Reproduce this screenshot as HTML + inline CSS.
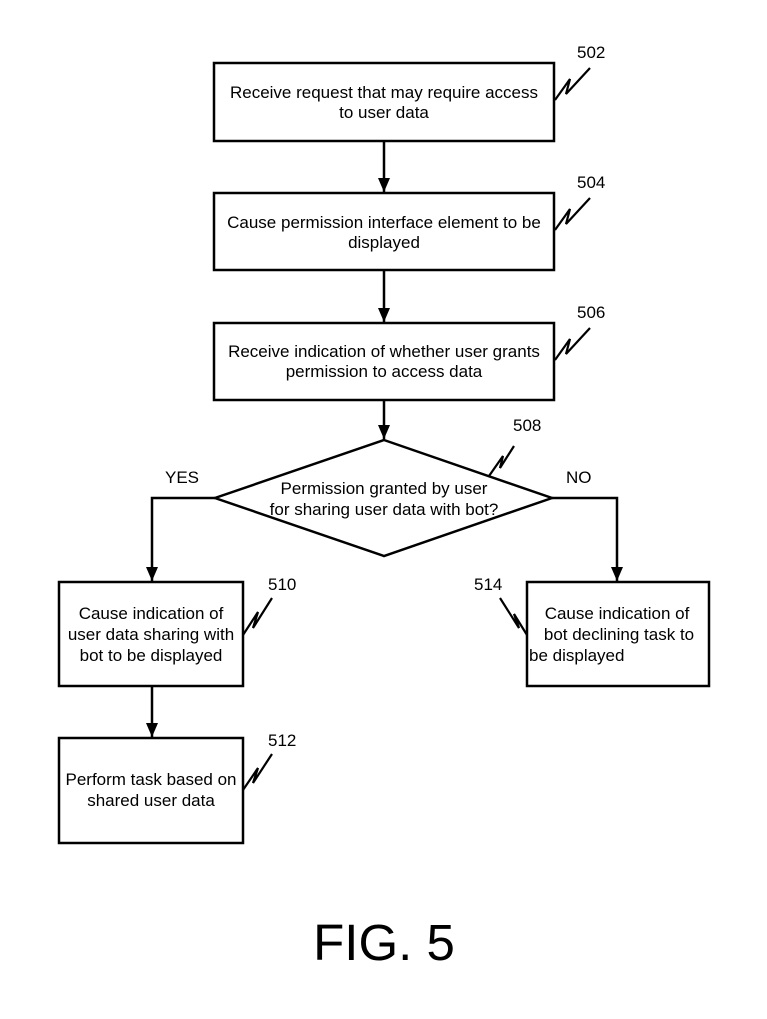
<!DOCTYPE html>
<html><head><style>
html,body{margin:0;padding:0;background:#fff;}
svg{display:block;}
text{font-family:"Liberation Sans",Arial,sans-serif;font-size:17px;fill:#000;}
</style></head><body>
<svg width="767" height="1019" viewBox="0 0 767 1019" xmlns="http://www.w3.org/2000/svg">
<defs><marker id="a" markerWidth="12" markerHeight="14" refX="14" refY="6" orient="auto" markerUnits="userSpaceOnUse"><path d="M0,0 L14,6 L0,12 z" fill="#000"/></marker></defs>
<g fill="none" stroke="#000" stroke-width="2.5">
<rect x="214" y="63" width="340" height="78"/>
<rect x="214" y="193" width="340" height="77"/>
<rect x="214" y="323" width="340" height="77"/>
<polygon points="384,440 552,498 384,556 215,498"/>
<rect x="59" y="582" width="184" height="104"/>
<rect x="527" y="582" width="182" height="104"/>
<rect x="59" y="738" width="184" height="105"/>
<line x1="384" y1="141" x2="384" y2="192" marker-end="url(#a)"/>
<line x1="384" y1="270" x2="384" y2="322" marker-end="url(#a)"/>
<line x1="384" y1="400" x2="384" y2="439" marker-end="url(#a)"/>
<polyline points="215,498 152,498 152,581" marker-end="url(#a)"/>
<polyline points="552,498 617,498 617,581" marker-end="url(#a)"/>
<line x1="152" y1="686" x2="152" y2="737" marker-end="url(#a)"/>
</g>
<g fill="none" stroke="#000" stroke-width="2.2">
<polyline points="555,100 570,79 566,94 590,68"/>
<polyline points="555,230 570,209 566,224 590,198"/>
<polyline points="555,360 570,339 566,354 590,328"/>
<polyline points="489,476 503,456 500,468 514,446"/>
<polyline points="243,635 258,612 253,628 272,598"/>
<polyline points="243,790 258,768 253,783 272,754"/>
<polyline points="527,635 514,614 519,628 500,598"/>
</g>
<g text-anchor="middle">
<text x="384" y="98">Receive request that may require access</text>
<text x="384" y="118">to user data</text>
<text x="384" y="228">Cause permission interface element to be</text>
<text x="384" y="248">displayed</text>
<text x="384" y="357">Receive indication of whether user grants</text>
<text x="384" y="377">permission to access data</text>
<text x="384" y="494">Permission granted by user</text>
<text x="384" y="515">for sharing user data with bot?</text>
<text x="151" y="619">Cause indication of</text>
<text x="151" y="640">user data sharing with</text>
<text x="151" y="661">bot to be displayed</text>
<text x="151" y="785">Perform task based on</text>
<text x="151" y="806">shared user data</text>
<text x="617" y="619">Cause indication of</text>
<text x="619" y="640">bot declining task to</text>
</g>
<text x="529" y="661">be displayed</text>
<text x="577" y="58">502</text>
<text x="577" y="188">504</text>
<text x="577" y="318">506</text>
<text x="513" y="431">508</text>
<text x="268" y="590">510</text>
<text x="268" y="746">512</text>
<text x="474" y="590">514</text>
<text x="165" y="483">YES</text>
<text x="566" y="483">NO</text>
<text x="384" y="960" text-anchor="middle" style="font-size:51px">FIG. 5</text>
</svg>
</body></html>
